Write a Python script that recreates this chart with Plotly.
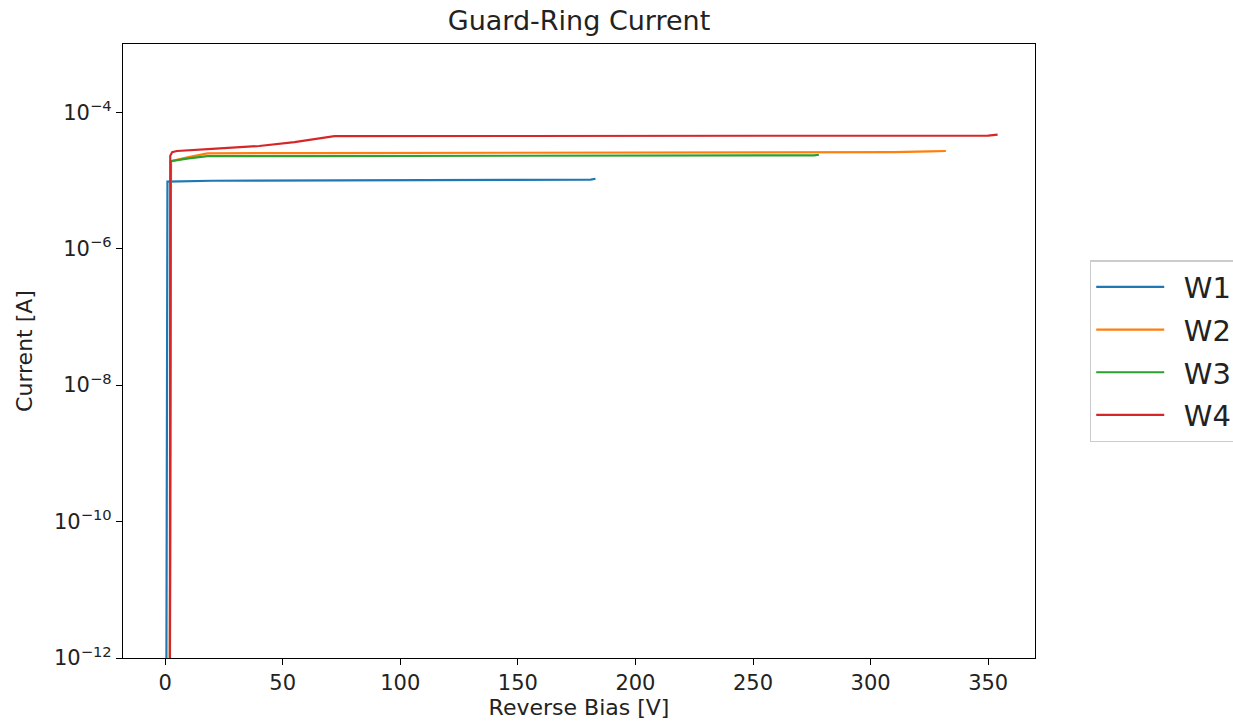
import plotly.graph_objects as go

# Reverse-bias sweeps of the guard-ring current for four wafers
w1_bias = [0.5, 1.0, 20, 60, 100, 140, 170, 181, 183]
w1_current = [1e-13, 9.6e-6, 9.9e-6, 1.0e-5, 1.0e-5, 1.01e-5, 1.02e-5, 1.03e-5, 1.06e-5]

w2_bias = [2.0, 2.5, 10, 18, 60, 150, 250, 300, 310, 325, 332]
w2_current = [1e-13, 1.92e-5, 2.2e-5, 2.5e-5, 2.52e-5, 2.53e-5, 2.55e-5, 2.57e-5, 2.6e-5, 2.66e-5, 2.7e-5]

w3_bias = [2.0, 2.5, 10, 18, 60, 150, 250, 272, 276, 278]
w3_current = [1e-13, 1.92e-5, 2.1e-5, 2.27e-5, 2.28e-5, 2.29e-5, 2.3e-5, 2.31e-5, 2.33e-5, 2.38e-5]

w4_bias = [2.0, 2.2, 3.0, 5, 20, 40, 55, 65, 72, 150, 250, 340, 350, 354]
w4_current = [1e-13, 2.3e-5, 2.6e-5, 2.7e-5, 2.9e-5, 3.2e-5, 3.65e-5, 4.15e-5, 4.45e-5, 4.48e-5, 4.5e-5, 4.52e-5, 4.55e-5, 4.7e-5]

series = [
    ("W1", w1_bias, w1_current, "#1f77b4"),
    ("W2", w2_bias, w2_current, "#ff7f0e"),
    ("W3", w3_bias, w3_current, "#2ca02c"),
    ("W4", w4_bias, w4_current, "#d62728"),
]

x_ticks = [0, 50, 100, 150, 200, 250, 300, 350]
y_exponents = [-12, -10, -8, -6, -4]
y_tickvals = [10.0 ** e for e in y_exponents]
y_ticktext = ["10<sup>\u2212%d</sup>" % (-e) for e in y_exponents]

FONT = "DejaVu Sans"
INK = "#222"

fig = go.Figure()
for name, v, i, color in series:
    fig.add_trace(go.Scatter(
        x=v, y=i, mode="lines", name="\u2002" + name, legendgroup=name,
        line=dict(color=color, width=2.2),
    ))

axis_common = dict(
    showline=True, linecolor="black", linewidth=1.3, mirror=True,
    ticks="outside", ticklen=6, tickwidth=1.3, tickcolor="black",
    showgrid=False, zeroline=False,
    tickfont=dict(family=FONT, size=21, color=INK),
)

fig.update_xaxes(
    range=[-17.9, 369.9], tickvals=x_ticks,
    title=dict(text="Reverse Bias [V]", font=dict(family=FONT, size=22, color=INK), standoff=4),
    **axis_common,
)
fig.update_yaxes(
    type="log", range=[-12, -3.0], tickvals=y_tickvals, ticktext=y_ticktext,
    title=dict(text="Current [A]", font=dict(family=FONT, size=22, color=INK), standoff=15),
    **axis_common,
)

fig.update_layout(
    width=1233, height=727,
    margin=dict(l=123, r=198, t=44, b=69, autoexpand=False),
    paper_bgcolor="white", plot_bgcolor="white",
    title=dict(text="Guard-Ring Current", x=0.5, xref="paper", xanchor="center",
               y=1 - 21 / 727, yref="container", yanchor="middle",
               font=dict(family=FONT, size=27, color=INK)),
    legend=dict(
        x=1.06, xanchor="left", y=0.5, yanchor="middle",
        font=dict(family=FONT, size=29, color=INK),
        bordercolor="#cccccc", borderwidth=1.5, bgcolor="white",
        tracegroupgap=2, itemwidth=68,
    ),
    showlegend=True,
)

fig.write_html("out.html")
